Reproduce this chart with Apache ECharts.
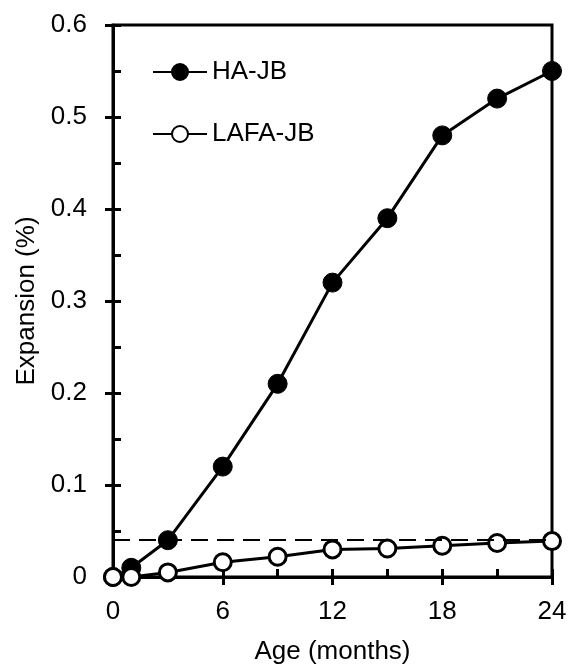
<!DOCTYPE html>
<html>
<head>
<meta charset="utf-8">
<script src="https://cdn.jsdelivr.net/npm/echarts@6/dist/echarts.min.js"></script>
<style>
  html, body { margin: 0; padding: 0; background: #fff; }
  #chart { width: 571px; height: 668px; }
</style>
</head>
<body>
<div id="chart"></div>
<script>
var ages = [0, 1, 3, 6, 9, 12, 15, 18, 21, 24];
var haJB = [0, 0.01, 0.04, 0.12, 0.21, 0.32, 0.39, 0.48, 0.52, 0.55];
var lafaJB = [0, 0, 0.005, 0.016, 0.022, 0.03, 0.031, 0.034, 0.037, 0.039];
var limitLine = 0.04;

var font = 'Liberation Sans, Arial, sans-serif';
var fs = 26;

function pairs(xs, ys) {
    var out = [];
    for (var i = 0; i < xs.length; i++) out.push([xs[i], ys[i]]);
    return out;
}

var myChart = echarts.init(document.getElementById('chart'));
var option = {
    animation: false,
    grid: {
        left: 113, top: 25, right: 19, bottom: 91,
        outerBoundsMode: 'none',
        show: true, borderColor: '#000', borderWidth: 3,
        backgroundColor: 'transparent'
    },
    legend: {
        orient: 'vertical',
        left: 147, top: 54,
        itemWidth: 54, itemHeight: 20, itemGap: 36,
        textStyle: {fontFamily: font, fontSize: fs, color: '#000'},
        data: ['HA-JB', 'LAFA-JB']
    },
    xAxis: [
        {
            type: 'value', position: 'bottom', min: 0, max: 24, interval: 3,
            axisLine: {onZero: false, lineStyle: {color: '#000', width: 3}},
            axisTick: {inside: true, length: 8, lineStyle: {color: '#000', width: 3}},
            axisLabel: {show: false},
            splitLine: {show: false}
        },
        {
            type: 'value', position: 'bottom', min: 0, max: 24, interval: 6,
            axisLine: {show: false},
            axisTick: {inside: false, length: 8, lineStyle: {color: '#000', width: 3}},
            axisLabel: {margin: 22, fontFamily: font, fontSize: fs, color: '#000'},
            splitLine: {show: false},
            name: 'Age (months)', nameLocation: 'middle', nameGap: 62,
            nameTextStyle: {fontFamily: font, fontSize: fs, color: '#000'}
        }
    ],
    yAxis: [
        {
            type: 'value', position: 'left', min: 0, max: 0.6, interval: 0.05,
            axisLine: {onZero: false, lineStyle: {color: '#000', width: 3}},
            axisTick: {inside: true, length: 8, lineStyle: {color: '#000', width: 3}},
            axisLabel: {show: false},
            splitLine: {show: false}
        },
        {
            type: 'value', position: 'left', min: 0, max: 0.6, interval: 0.1,
            axisLine: {show: false},
            axisTick: {inside: false, length: 8, lineStyle: {color: '#000', width: 3}},
            axisLabel: {
                margin: 26, fontFamily: font, fontSize: fs, color: '#000',
                formatter: function (v) { return v === 0 ? '0' : v.toFixed(1); }
            },
            splitLine: {show: false},
            name: 'Expansion (%)', nameLocation: 'middle', nameGap: 72, nameRotate: 90,
            nameTextStyle: {fontFamily: font, fontSize: fs, color: '#000'}
        }
    ],
    series: [
        {
            name: 'HA-JB', type: 'line',
            data: pairs(ages, haJB),
            symbol: 'circle', symbolSize: 19,
            lineStyle: {color: '#000', width: 3},
            itemStyle: {color: '#000', borderColor: '#000', borderWidth: 1},
            markLine: {
                silent: true, symbol: 'none', label: {show: false},
                lineStyle: {color: '#000', width: 2, type: [17, 9]},
                data: [{yAxis: limitLine}]
            }
        },
        {
            name: 'LAFA-JB', type: 'line',
            data: pairs(ages, lafaJB),
            symbol: 'circle', symbolSize: 17,
            lineStyle: {color: '#000', width: 3},
            itemStyle: {color: '#fff', borderColor: '#000', borderWidth: 3}
        }
    ]
};
myChart.setOption(option);
</script>
</body>
</html>
